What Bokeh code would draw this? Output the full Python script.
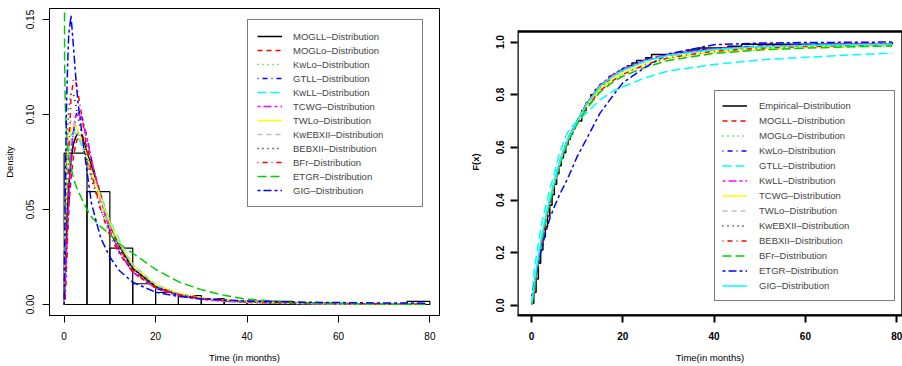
from bokeh.plotting import figure
from bokeh.models import Range1d, FixedTicker, Legend, LegendItem, NumeralTickFormatter, BoxAnnotation
from bokeh.layouts import row
from bokeh.embed import file_html
from bokeh.resources import INLINE

# ---------------- data: left panel (density) ----------------
hist_breaks = [0, 5, 10, 15, 20, 25, 30, 35, 40, 45, 50, 55, 60, 65, 70, 75, 80]
hist_density = [0.0797, 0.0594, 0.0297, 0.0109, 0.0063, 0.0047, 0.0031, 0.0016,
                0.0016, 0.0016, 0.0, 0.0, 0.0, 0.0, 0.0, 0.0016]

t_dens = [0, 0.1, 0.25, 0.5, 0.75, 1, 1.5, 2, 2.5, 3, 4, 5, 6, 8, 10, 12, 15, 20,
          25, 30, 35, 40, 50, 60, 70, 79]
dens_MOGLL = [0, 0.008, 0.02, 0.04, 0.052, 0.062, 0.076, 0.084, 0.088, 0.090, 0.088, 0.080, 0.073,
              0.057, 0.042, 0.031, 0.019, 0.0095, 0.0053, 0.0033, 0.0022, 0.0015, 0.0008, 0.0005, 0.0003, 0.0002]
dens_MOGLo = [0, 0.005, 0.013, 0.03, 0.041, 0.05, 0.066, 0.077, 0.084, 0.088, 0.089, 0.083, 0.075,
              0.058, 0.042, 0.030, 0.018, 0.009, 0.005, 0.003, 0.002, 0.0013, 0.0007, 0.0004, 0.0003, 0.0002]
dens_KwLo = [0, 0.015, 0.032, 0.05, 0.065, 0.075, 0.086, 0.091, 0.092, 0.091, 0.086, 0.079, 0.071,
             0.056, 0.042, 0.031, 0.019, 0.009, 0.0048, 0.0027, 0.0016, 0.001, 0.0004, 0.0002, 0.0001, 0.0001]
dens_GTLL = [0, 0.003, 0.008, 0.02, 0.035, 0.05, 0.075, 0.09, 0.099, 0.102, 0.098, 0.088, 0.076,
             0.055, 0.039, 0.028, 0.017, 0.0085, 0.0048, 0.003, 0.002, 0.0014, 0.0008, 0.0005, 0.0003, 0.0002]
dens_KwLL = [0, 0.02, 0.04, 0.06, 0.073, 0.082, 0.089, 0.091, 0.090, 0.088, 0.083, 0.077, 0.070,
             0.057, 0.044, 0.034, 0.021, 0.010, 0.0055, 0.0033, 0.0021, 0.0014, 0.0007, 0.0004, 0.0003, 0.0002]
dens_TCWG = [0, 0.004, 0.01, 0.025, 0.04, 0.055, 0.078, 0.092, 0.099, 0.101, 0.097, 0.087, 0.076,
             0.055, 0.039, 0.028, 0.017, 0.0085, 0.0046, 0.0027, 0.0017, 0.0011, 0.0005, 0.0003, 0.0002, 0.0001]
dens_TWLo = [0.028, 0.04, 0.05, 0.07, 0.08, 0.086, 0.092, 0.094, 0.094, 0.092, 0.086, 0.078, 0.070,
             0.056, 0.043, 0.033, 0.021, 0.0105, 0.006, 0.0036, 0.0023, 0.0015, 0.0007, 0.0004, 0.0002, 0.0001]
dens_KwEBXII = [0, 0.025, 0.05, 0.075, 0.086, 0.092, 0.097, 0.097, 0.094, 0.090, 0.083, 0.075, 0.067,
                0.053, 0.041, 0.032, 0.021, 0.0105, 0.0057, 0.0033, 0.002, 0.0013, 0.0006, 0.0003, 0.0002, 0.0001]
dens_BEBXII = [0, 0.015, 0.04, 0.075, 0.093, 0.103, 0.111, 0.111, 0.106, 0.099, 0.087, 0.076, 0.066,
               0.050, 0.038, 0.029, 0.019, 0.0095, 0.0052, 0.0031, 0.002, 0.0013, 0.0006, 0.0003, 0.0002, 0.0001]
dens_BFr = [0, 0.0, 0.004, 0.02, 0.05, 0.08, 0.108, 0.118, 0.118, 0.112, 0.097, 0.082, 0.069,
            0.050, 0.036, 0.027, 0.017, 0.009, 0.0052, 0.0033, 0.0022, 0.0015, 0.0008, 0.0005, 0.0003, 0.0002]
dens_ETGR = [0.40, 0.13, 0.105, 0.09, 0.083, 0.078, 0.072, 0.067, 0.063, 0.060, 0.055, 0.050, 0.046,
             0.041, 0.037, 0.032, 0.027, 0.0185, 0.012, 0.0078, 0.0048, 0.0028, 0.0011, 0.0005, 0.0002, 0.0001]
dens_GIG = [0, 0.03, 0.06, 0.102, 0.125, 0.142, 0.152, 0.137, 0.121, 0.107, 0.088, 0.070, 0.053,
            0.035, 0.025, 0.018, 0.0117, 0.0065, 0.0042, 0.003, 0.0024, 0.0018, 0.0013, 0.001, 0.0008, 0.0007]

left_names = ["MOGLL", "MOGLo", "KwLo", "GTLL", "KwLL", "TCWG", "TWLo", "KwEBXII",
              "BEBXII", "BFr", "ETGR", "GIG"]
left_series = [dens_MOGLL, dens_MOGLo, dens_KwLo, dens_GTLL, dens_KwLL, dens_TCWG, dens_TWLo,
               dens_KwEBXII, dens_BEBXII, dens_BFr, dens_ETGR, dens_GIG]
left_x_ticks = [0, 20, 40, 60, 80]
left_y_ticks = [0.0, 0.05, 0.10, 0.15]

# ---------------- data: right panel (cdf) ----------------
emp_x = [0.08, 0.5, 1, 1.5, 2, 2.5, 3, 3.5, 4, 4.5, 5, 5.5, 6, 6.5, 7, 7.5, 8, 8.5, 9, 9.5,
         10, 11, 12, 13, 14, 15, 16, 17, 18, 19, 20, 21, 22, 23, 25, 26.3, 32, 34.3, 36.7,
         43, 46, 79.05]
emp_F = [0.008, 0.05, 0.10, 0.16, 0.21, 0.26, 0.30, 0.34, 0.38, 0.42, 0.46, 0.50, 0.53, 0.56,
         0.58, 0.61, 0.63, 0.65, 0.67, 0.69, 0.70, 0.74, 0.77, 0.80, 0.82, 0.84, 0.85, 0.87,
         0.88, 0.89, 0.90, 0.91, 0.92, 0.93, 0.94, 0.953, 0.96, 0.97, 0.977, 0.984, 0.992, 1.0]

t_cdf = [0.08, 0.5, 1, 2, 3, 4, 5, 6, 7, 8, 10, 12, 15, 18, 20, 25, 30, 40, 50, 60, 70, 79.05]
cdf_MOGLL = [0.005, 0.05, 0.11, 0.22, 0.315, 0.40, 0.47, 0.535, 0.59, 0.635, 0.70, 0.765, 0.835,
             0.875, 0.895, 0.93, 0.952, 0.973, 0.983, 0.988, 0.991, 0.993]
cdf_MOGLo = [0.005, 0.05, 0.105, 0.215, 0.31, 0.395, 0.465, 0.53, 0.585, 0.63, 0.695, 0.755, 0.82,
             0.86, 0.88, 0.915, 0.937, 0.96, 0.971, 0.978, 0.982, 0.985]
cdf_KwLo = [0.01, 0.065, 0.12, 0.225, 0.315, 0.395, 0.468, 0.533, 0.588, 0.632, 0.70, 0.765, 0.836,
            0.878, 0.898, 0.933, 0.955, 0.976, 0.985, 0.99, 0.992, 0.994]
cdf_GTLL = [0.008, 0.12, 0.18, 0.29, 0.37, 0.44, 0.50, 0.57, 0.62, 0.66, 0.70, 0.73, 0.78,
            0.815, 0.83, 0.865, 0.89, 0.915, 0.932, 0.942, 0.951, 0.958]
cdf_KwLL = [0.004, 0.05, 0.105, 0.215, 0.31, 0.39, 0.465, 0.53, 0.585, 0.632, 0.70, 0.765, 0.836,
            0.878, 0.898, 0.933, 0.954, 0.975, 0.984, 0.989, 0.992, 0.994]
cdf_TCWG = [0.005, 0.06, 0.115, 0.225, 0.315, 0.395, 0.465, 0.53, 0.585, 0.63, 0.695, 0.755, 0.822,
            0.862, 0.883, 0.918, 0.94, 0.963, 0.975, 0.981, 0.985, 0.988]
cdf_TWLo = [0.006, 0.058, 0.112, 0.222, 0.313, 0.39, 0.46, 0.525, 0.58, 0.628, 0.698, 0.762, 0.832,
            0.872, 0.893, 0.928, 0.95, 0.972, 0.982, 0.987, 0.99, 0.992]
cdf_KwEBXII = [0.005, 0.055, 0.11, 0.22, 0.312, 0.39, 0.46, 0.525, 0.58, 0.628, 0.698, 0.762, 0.833,
               0.874, 0.895, 0.93, 0.951, 0.972, 0.982, 0.987, 0.99, 0.992]
cdf_BEBXII = [0.004, 0.05, 0.105, 0.215, 0.31, 0.39, 0.46, 0.525, 0.578, 0.622, 0.69, 0.75, 0.815,
              0.855, 0.877, 0.915, 0.94, 0.965, 0.977, 0.983, 0.987, 0.99]
cdf_BFr = [0.005, 0.055, 0.11, 0.22, 0.312, 0.39, 0.46, 0.523, 0.575, 0.62, 0.688, 0.745, 0.81,
           0.85, 0.87, 0.905, 0.93, 0.957, 0.97, 0.977, 0.982, 0.985]
cdf_ETGR = [0.035, 0.075, 0.12, 0.20, 0.27, 0.33, 0.375, 0.415, 0.45, 0.485, 0.565, 0.63, 0.73,
            0.80, 0.845, 0.905, 0.955, 0.99, 0.996, 0.998, 0.999, 1.0]
cdf_GIG = [0.008, 0.07, 0.13, 0.24, 0.33, 0.405, 0.47, 0.535, 0.588, 0.633, 0.70, 0.762, 0.832,
           0.872, 0.892, 0.928, 0.95, 0.972, 0.982, 0.987, 0.99, 0.992]

right_names = ["MOGLL", "MOGLo", "KwLo", "GTLL", "KwLL", "TCWG", "TWLo", "KwEBXII",
               "BEBXII", "BFr", "ETGR", "GIG"]
right_series = [cdf_MOGLL, cdf_MOGLo, cdf_KwLo, cdf_GTLL, cdf_KwLL, cdf_TCWG, cdf_TWLo,
                cdf_KwEBXII, cdf_BEBXII, cdf_BFr, cdf_ETGR, cdf_GIG]
right_x_ticks = [0, 20, 40, 60, 80]
right_y_ticks = [0.0, 0.2, 0.4, 0.6, 0.8, 1.0]

# axis extents
left_xlim = (-3.2, 82.1)
left_ylim = (-0.0058, 0.1558)
right_xlim = (-3.07, 81.27)
right_box_ylim = (-0.0382, 1.04)      # visible box of the right panel
right_ylim = (-0.0382, 1.1273)        # canvas range (frame shared with left panel)

# ---------------- styles (R palette / lty cycle) ----------------
r_cols = ["#000000", "#FF0000", "#00CD00", "#0000FF", "#00FFFF", "#FF00FF", "#FFFF00", "#BEBEBE"]
r_lty = ["solid", "5 4", "1 4", "1 4 5 4", "9 4", "3 3 8 3"]
FONT = "Liberation Sans"
LW = 1.5


def style_axes(p, bold, tick_size):
    p.xgrid.visible = False
    p.ygrid.visible = False
    for ax in (p.xaxis[0], p.yaxis[0]):
        ax.axis_line_color = "black"
        ax.major_tick_line_color = "black"
        ax.major_tick_out = 7
        ax.major_tick_in = 0
        ax.minor_tick_line_color = None
        ax.major_label_text_font = FONT
        ax.major_label_text_font_size = tick_size
        ax.major_label_text_color = "black"
        ax.major_label_text_font_style = "bold" if bold else "normal"
        ax.axis_label_text_font = FONT
        ax.axis_label_text_font_size = "9.5px"
        ax.axis_label_text_color = "black"
    p.yaxis[0].major_label_orientation = "vertical"


# ---------------- left figure ----------------
pl = figure(width=452, height=366, output_backend="svg", toolbar_location=None, title=None,
            x_range=Range1d(*left_xlim), y_range=Range1d(*left_ylim),
            min_border_left=49, min_border_right=13, min_border_top=8, min_border_bottom=51,
            background_fill_color="white", border_fill_color="white")
pl.outline_line_color = "black"
pl.outline_line_width = 1
style_axes(pl, False, "10px")
pl.xaxis.ticker = FixedTicker(ticks=left_x_ticks)
pl.yaxis.ticker = FixedTicker(ticks=left_y_ticks)
pl.yaxis.formatter = NumeralTickFormatter(format="0.00")
pl.xaxis.axis_label = "Time (in months)"
pl.yaxis.axis_label = "Density"
pl.xaxis.major_label_standoff = 9
pl.yaxis.major_label_standoff = 8
pl.xaxis.axis_label_standoff = 9
pl.yaxis.axis_label_standoff = 9
pl.xaxis.axis_label_text_font_style = "normal"
pl.yaxis.axis_label_text_font_style = "normal"

pl.quad(left=hist_breaks[:-1], right=hist_breaks[1:], top=hist_density, bottom=0,
        fill_color=None, line_color="black", line_width=1.2)

left_items = []
for i, (nm, ys) in enumerate(zip(left_names, left_series)):
    r = pl.line(t_dens, ys, line_color=r_cols[i % 8], line_dash=r_lty[i % 6], line_width=LW)
    left_items.append(LegendItem(label=nm + "\u2013Distribution", renderers=[r]))

leg_l = Legend(items=left_items, location=(198, 108), padding=9, spacing=0,
               glyph_width=25, glyph_height=14, label_height=14, label_width=120,
               label_standoff=11, label_text_font=FONT, label_text_font_size="9.5px",
               border_line_color="black", border_line_width=1,
               background_fill_color="white", background_fill_alpha=1.0, margin=0)
pl.add_layout(leg_l)

# ---------------- right figure ----------------
pr = figure(width=450, height=366, output_backend="svg", toolbar_location=None, title=None,
            x_range=Range1d(*right_xlim), y_range=Range1d(*right_ylim),
            min_border_left=65, min_border_right=0, min_border_top=8, min_border_bottom=51,
            background_fill_color="white", border_fill_color="white")
pr.outline_line_color = None
style_axes(pr, True, "10px")
pr.xaxis.axis_line_width = 2
pr.yaxis.axis_line_color = None
pr.xaxis.major_tick_line_width = 2
pr.yaxis.major_tick_line_width = 2
pr.xaxis.ticker = FixedTicker(ticks=right_x_ticks)
pr.yaxis.ticker = FixedTicker(ticks=right_y_ticks)
pr.yaxis.formatter = NumeralTickFormatter(format="0.0")
pr.xaxis.axis_label = "Time(in months)"
pr.yaxis.axis_label = "F(x)"
pr.xaxis.major_label_standoff = 9
pr.yaxis.major_label_standoff = 6
pr.xaxis.axis_label_standoff = 9
pr.yaxis.axis_label_standoff = 13
pr.xaxis.axis_label_text_font_style = "normal"
pr.yaxis.axis_label_text_font_style = "bold"

right_items = []
r0 = pr.step(emp_x, emp_F, mode="after", line_color="black", line_width=LW)
right_items.append(LegendItem(label="Empirical\u2013Distribution", renderers=[r0]))
for i, (nm, ys) in enumerate(zip(right_names, right_series)):
    k = i + 1
    r = pr.line(t_cdf, ys, line_color=r_cols[k % 8], line_dash=r_lty[k % 6], line_width=LW)
    right_items.append(LegendItem(label=nm + "\u2013Distribution", renderers=[r]))

pr.add_layout(BoxAnnotation(left=right_xlim[0], right=right_xlim[1],
                            bottom=right_box_ylim[0], top=right_box_ylim[1],
                            fill_color=None, fill_alpha=0.0, line_color="black",
                            line_alpha=1.0, line_width=2.5, level="overlay"))

leg_r = Legend(items=right_items, location=(197, 14), padding=7, spacing=0,
               glyph_width=25, glyph_height=15, label_height=15, label_width=128,
               label_standoff=12, label_text_font=FONT, label_text_font_size="9.5px",
               border_line_color="black", border_line_width=1,
               background_fill_color="white", background_fill_alpha=1.0, margin=0)
pr.add_layout(leg_r)

layout = row(pl, pr, spacing=0)
open("out.html", "w").write(file_html(layout, INLINE))
